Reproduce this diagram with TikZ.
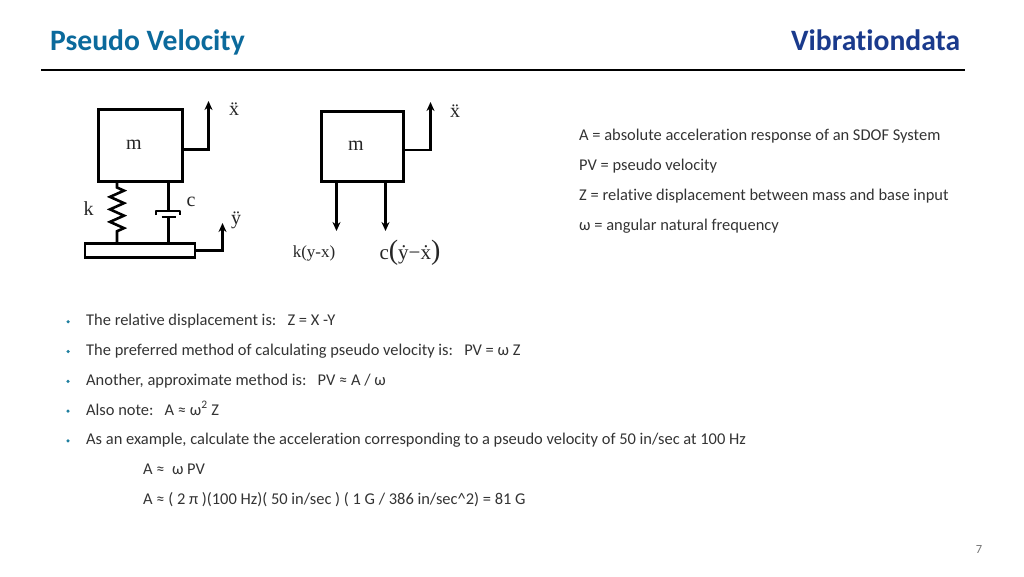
\documentclass[tikz,border=0pt]{standalone}
\usepackage{fontspec}
\setmainfont{Carlito}[Ligatures=NoCommon]
\newfontfamily\figfont{Liberation Serif}
\usetikzlibrary{calc, positioning, arrows.meta, decorations.pathmorphing}
\definecolor{titleblue}{HTML}{0B6A9C}
\definecolor{brandblue}{HTML}{1A3A8C}
\definecolor{bodygrey}{HTML}{333333}
\definecolor{dotteal}{HTML}{1F7F9F}

\begin{document}
\begin{tikzpicture}[
    x=1pt, y=-1pt,
    title/.style={inner sep=0pt, anchor=base west, font=\fontsize{29.6}{34}\selectfont\bfseries},
    body/.style={inner sep=0pt, text=bodygrey, text height=11pt, text depth=3pt, font=\fontsize{16.45}{20}\selectfont},
    dot/.style={circle, fill=dotteal, inner sep=0pt, minimum size=3.5pt},
    mass/.style={draw=black, line width=3pt},
    lab/.style={inner sep=0pt, text=black!85, font=\figfont\fontsize{20}{24}\selectfont},
    link/.style={draw=black, line width=2.6pt},
    arrow/.style={-{Stealth[length=9pt, width=8pt]}, draw=black, line width=2.6pt}
]
\useasboundingbox (0,0) rectangle (1024,576);

% header
\node[title, text=titleblue] (head) at (50,50) {Pseudo Velocity};
\node[title, text=brandblue] (brand) at (791,50) {Vibrationdata};
\coordinate (ruleL) at (41,69.5);
\coordinate (ruleR) at (965,69.5);
\draw[line width=2pt] (ruleL) -- (ruleR);

% left sketch
\node[mass, minimum width=84pt, minimum height=72pt, inner sep=0pt] (m1) at (140,145) {};
\node[lab] (m1t) at (134,144.5) {m};
\node[draw=black, line width=2.8pt, minimum width=110pt, minimum height=14pt, inner sep=0pt] (base) at (140,250.5) {};
\coordinate (x1) at (208.5,101);
\coordinate (y1) at (222.5,223);
\coordinate (cupL) at (156,215);
\coordinate (cupR) at (180,215);
\coordinate (rodT) at (168.5,210);
\coordinate (rodB) at (168.5,217);
\draw[arrow] (m1.east |- 0,149.5) -| (x1);
\draw[arrow] (base.east) -| (y1);
\draw[link, decorate, decoration={zigzag, segment length=12.5pt, amplitude=7pt, pre length=5pt, post length=5pt}]
    (m1.south -| 117,0) -- (base.north -| 117,0);
\draw[link] (m1.south -| rodT) -- (rodT);
\draw[link, line join=round] (cupL) -- ($(cupL)+(0,-4)$) -- ($(cupR)+(0,-4)$) -- (cupR);
\draw[link] ($(rodB)+(-7,0)$) -- ($(rodB)+(7,0)$);
\draw[link] (rodB) -- (base.north -| rodB);
\node[lab] (x1t) at (234,109) {\"x};
\node[lab] (y1t) at (236,220) {\"y};
\node[lab] (kt) at (88.5,209) {k};
\node[lab] (ct) at (191,202) {c};

% right sketch
\node[mass, minimum width=82pt, minimum height=70pt, inner sep=0pt] (m2) at (362,146) {};
\node[lab] (m2t) at (356,145.5) {m};
\coordinate (x2) at (430.5,102);
\coordinate (f1) at (336.5,231);
\coordinate (f2) at (385.5,231);
\draw[arrow] (m2.east |- 0,150) -| (x2);
\draw[arrow] (m2.south -| f1) -- (f1);
\draw[arrow] (m2.south -| f2) -- (f2);
\node[lab] (x2t) at (455,111) {\"x};
\node[lab, font=\figfont\fontsize{17}{20}\selectfont] (f1t) at (314,253) {k(y-x)};
\node[lab, font=\figfont\fontsize{21}{24}\selectfont] (f2t) at (410,253) {c{\fontsize{28}{28}\selectfont(}\.y−\.x{\fontsize{28}{28}\selectfont)}};

% definitions
\node[body, anchor=north west] (d1) at (579,129) {A = absolute acceleration response of an SDOF System};
\node[body, below=15.6pt of d1.south west, anchor=north west] (d2) {PV = pseudo velocity};
\node[body, below=15.6pt of d2.south west, anchor=north west] (d3) {Z = relative displacement between mass and base input};
\node[body, below=15.6pt of d3.south west, anchor=north west] (d4) {ω = angular natural frequency};

% bullet list
\node[body, anchor=north west] (b1) at (86,314.5) {The relative displacement is:\ \ \ Z = X -Y};
\node[body, below=15.4pt of b1.south west, anchor=north west] (b2) {The preferred method of calculating pseudo velocity is:\ \ \ PV = ω Z};
\node[body, below=15.4pt of b2.south west, anchor=north west] (b3) {Another, approximate method is:\ \ \ PV ≈ A / ω};
\node[body, below=15.4pt of b3.south west, anchor=north west] (b4) {Also note:\ \ \ A ≈ ω\textsuperscript{2} Z};
\node[body, below=15.4pt of b4.south west, anchor=north west] (b5) {As an example, calculate the acceleration corresponding to a pseudo velocity of 50 in/sec at 100 Hz};
\node[body, anchor=north west] (e1) at (143,463.5) {A ≈\ \ ω PV};
\node[body, below=15.6pt of e1.south west, anchor=north west] (e2) {A ≈ ( 2 π )(100 Hz)( 50 in/sec ) ( 1 G / 386 in/sec\^{}2) = 81 G};
\node[dot, left=16pt of b1] (p1) {};
\node[dot, left=16pt of b2] (p2) {};
\node[dot, left=16pt of b3] (p3) {};
\node[dot, left=16pt of b4] (p4) {};
\node[dot, left=16pt of b5] (p5) {};

% page number
\node[inner sep=0pt, text=black!55, font=\fontsize{12.5}{14}\selectfont] (page) at (979,549) {7};
\end{tikzpicture}
\end{document}
